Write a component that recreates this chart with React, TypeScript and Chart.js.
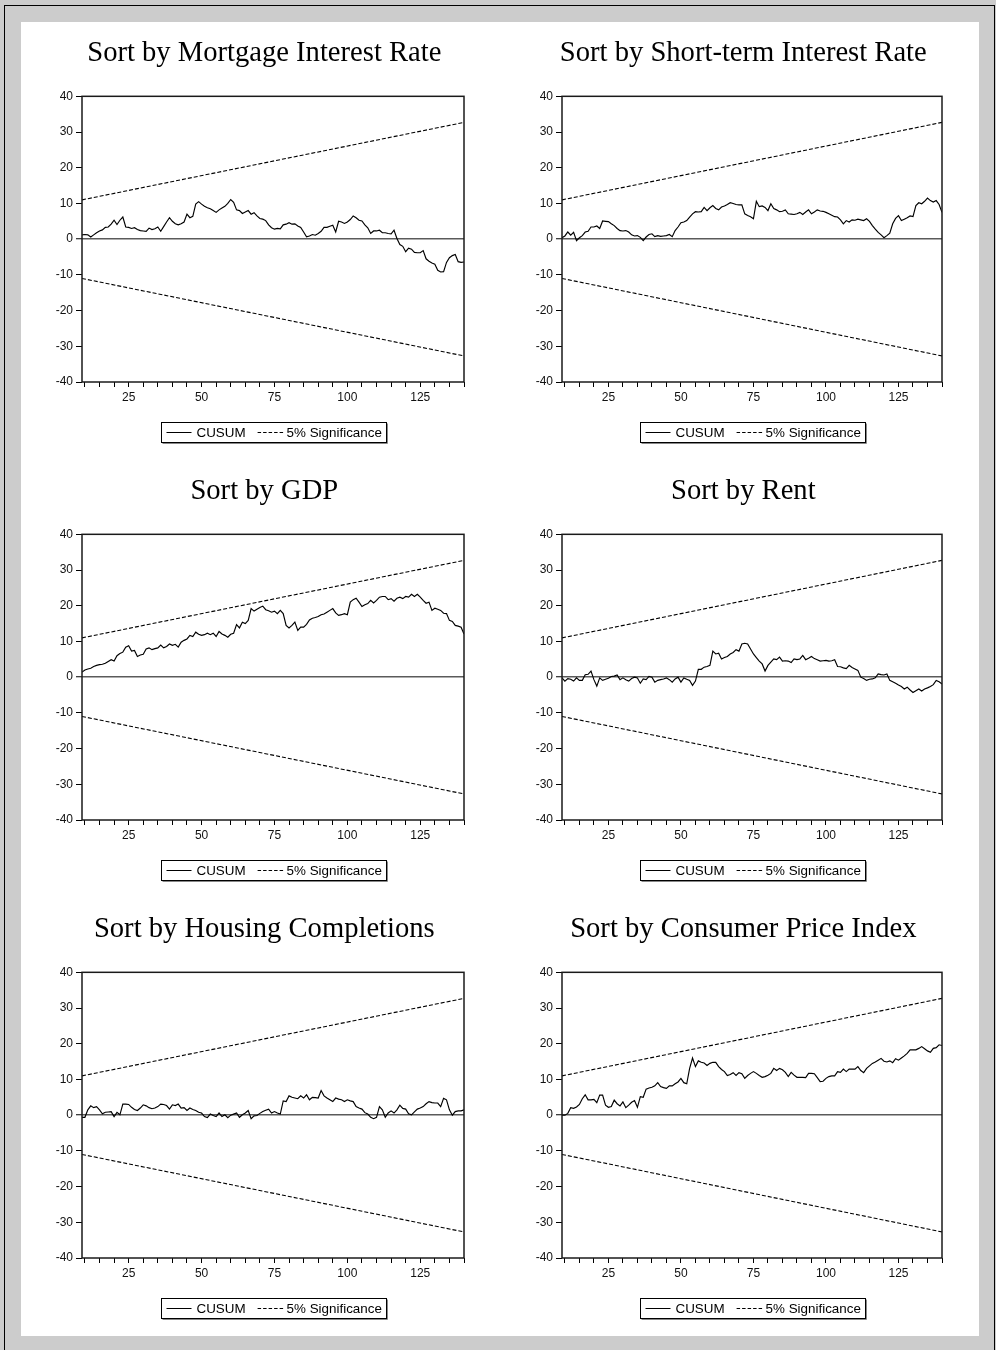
import React, { useEffect, useRef } from 'react';
import { Chart, registerables } from 'chart.js';

Chart.register(...registerables);

// ---------- data ----------
const obsStart = 9;
const xMin = 9;
const xMax = 140;
const yMin = -40;
const yMax = 40;
const yStep = 10;
const xTickValues = [10, 15, 20, 25, 30, 35, 40, 45, 50, 55, 60, 65, 70, 75, 80, 85, 90, 95, 100, 105, 110, 115, 120, 125, 130, 135, 140];
const xLabelValues = [25, 50, 75, 100, 125];

const sigX = [9, 140];
const sigUpper = [11.0, 32.7];
const sigLower = [-11.0, -32.7];

const legendLabels = ['CUSUM', '5% Significance'];

const titles = [
  'Sort by Mortgage Interest Rate',
  'Sort by Short-term Interest Rate',
  'Sort by GDP',
  'Sort by Rent',
  'Sort by Housing Completions',
  'Sort by Consumer Price Index',
];

const cusumMortgage = [
  1.2, 1.3, 1.2, 0.6, 1.2, 1.8, 2.3, 2.6, 3.3, 3.4,
  4.2, 5.3, 4.1, 5.3, 6.2, 3.4, 3.3, 3.0, 3.2, 2.7,
  2.4, 2.3, 2.2, 3.1, 2.7, 2.9, 3.4, 2.2, 3.5, 4.8,
  6.0, 5.0, 4.3, 4.0, 4.3, 4.8, 7.0, 6.0, 6.4, 9.8,
  10.5, 9.8, 9.2, 8.8, 8.5, 8.0, 7.5, 8.2, 8.7, 9.2,
  10.0, 11.1, 10.3, 8.2, 8.0, 7.2, 7.6, 8.0, 7.0, 7.4,
  6.5, 5.8, 5.6, 5.2, 4.0, 3.2, 2.8, 3.0, 2.9, 4.0,
  4.2, 4.6, 4.2, 4.3, 3.7, 3.3, 2.0, 0.65, 0.9, 1.3,
  1.1, 1.6, 2.2, 3.3, 3.3, 3.6, 3.9, 2.0, 5.0, 4.8,
  4.4, 4.8, 5.5, 6.5, 6.0, 5.3, 5.1, 4.0, 3.2, 1.6,
  2.3, 2.3, 2.5, 1.8, 1.8, 1.6, 1.5, 2.5, 0.2, -1.5,
  -2.0, -3.5, -2.5, -2.8, -3.7, -3.8, -3.8, -3.2, -5.5, -6.2,
  -6.7, -7.0, -8.7, -9.2, -9.1, -6.5, -5.2, -4.6, -4.3, -6.3,
  -6.5, -6.4,
];

const cusumShortTerm = [
  0.4, 0.9, 2.0, 1.1, 1.9, -0.4, 0.4, 1.0, 2.0, 2.2,
  3.4, 3.4, 3.7, 3.0, 5.1, 5.0, 4.9, 4.3, 3.8, 3.0,
  2.4, 2.3, 2.4, 2.0, 1.2, 0.9, 1.0, 0.5, -0.4, 0.6,
  1.3, 1.5, 0.7, 1.0, 0.8, 0.9, 1.0, 1.3, 0.7, 2.4,
  3.4, 4.6, 4.8, 5.2, 6.2, 7.1, 7.7, 7.6, 7.7, 8.9,
  8.0, 8.8, 9.4, 8.6, 8.2, 9.0, 9.3, 9.7, 10.2, 10.0,
  9.7, 9.6, 9.6, 7.1, 6.6, 6.3, 5.7, 10.6, 9.1, 9.3,
  8.9, 8.0, 9.9, 8.6, 8.2, 7.7, 7.8, 8.2, 7.1, 7.0,
  6.9, 7.1, 7.5, 6.9, 7.6, 8.2, 7.1, 7.6, 8.2, 7.9,
  7.8, 7.5, 7.1, 6.7, 6.3, 6.2, 5.4, 4.3, 5.2, 4.8,
  5.4, 5.3, 5.6, 5.4, 5.2, 5.7, 5.0, 3.8, 2.8, 1.9,
  1.2, 0.4, 1.0, 1.7, 4.3, 5.8, 6.6, 5.2, 5.6, 6.0,
  6.5, 6.3, 9.4, 10.2, 9.9, 10.6, 11.5, 10.8, 10.4, 10.8,
  9.7, 7.5,
];

const cusumGDP = [
  1.4, 2.0, 2.3, 2.5, 3.0, 3.3, 3.5, 3.6, 3.9, 4.4,
  4.9, 4.5, 6.0, 6.6, 7.0, 8.4, 8.8, 7.3, 7.5, 5.8,
  6.2, 6.4, 7.9, 8.2, 7.7, 8.0, 8.2, 9.0, 8.2, 8.6,
  9.3, 8.9, 9.2, 8.4, 9.8, 10.3, 10.7, 11.7, 11.4, 12.6,
  12.0, 11.7, 11.9, 12.3, 11.9, 12.3, 11.4, 12.8, 12.1, 11.7,
  11.2, 12.0, 12.3, 14.7, 13.8, 15.4, 15.0, 15.9, 19.2, 18.5,
  19.0, 19.5, 19.9, 18.9, 18.6, 18.2, 18.5, 17.8, 18.7, 17.8,
  14.5, 13.8, 14.5, 15.4, 13.1, 14.0, 14.0, 14.8, 16.0, 16.5,
  16.7, 17.0, 17.5, 17.7, 18.2, 18.7, 19.2, 18.0, 17.3, 17.5,
  17.8, 17.5, 21.0, 21.7, 22.1, 21.0, 19.8, 20.3, 20.6, 21.5,
  20.8, 21.5, 22.4, 22.6, 22.6, 21.7, 22.0, 21.3, 22.1, 22.4,
  22.0, 22.6, 22.4, 23.2, 22.6, 23.2, 22.4, 21.5, 20.7, 21.0,
  18.7, 19.3, 19.0, 18.7, 17.9, 17.8, 15.9, 15.6, 14.5, 14.3,
  14.0, 12.1,
];

const cusumRent = [
  -0.2, -1.1, -0.4, -0.6, -1.1, -0.2, -0.9, -0.9, 0.7, 0.8,
  1.7, -0.7, -2.5, -0.2, -0.9, -0.6, -0.3, 0.2, 0.3, 0.6,
  -0.7, -0.2, -0.7, -1.1, -0.4, 0.0, -0.2, -1.7, -0.5, -0.7,
  0.2, 0.0, -1.4, -0.9, -0.7, -0.5, -0.2, -0.7, -1.4, -0.5,
  0.0, -1.4, -0.2, -0.6, -0.9, -2.3, -1.1, 2.2, 2.2, 2.8,
  3.0, 3.3, 7.3, 6.5, 6.7, 5.1, 5.5, 5.8, 6.5, 6.9,
  7.7, 7.3, 9.3, 9.5, 9.3, 7.9, 6.5, 5.5, 4.5, 3.7,
  1.7, 3.3, 4.2, 5.1, 4.9, 5.6, 4.5, 4.6, 4.5, 4.1,
  5.1, 4.9, 5.1, 6.1, 4.9, 5.3, 5.8, 5.2, 4.9, 4.5,
  4.6, 4.7, 4.5, 4.6, 4.9, 3.0, 2.9, 2.6, 2.4, 3.3,
  2.7, 2.3, 1.9, 0.0, -0.4, -0.9, -0.6, -0.5, -0.2, 0.9,
  0.7, 0.6, 0.9, -0.9, -1.3, -1.7, -2.2, -2.6, -3.3, -2.8,
  -3.6, -4.3, -3.8, -3.3, -3.9, -3.3, -3.0, -2.6, -2.1, -0.9,
  -1.3, -1.9,
];

const cusumHousing = [
  -0.6, -0.6, 1.5, 2.6, 2.1, 2.4, 1.5, 0.4, 0.8, 0.9,
  1.0, -0.4, 0.8, 0.1, 3.1, 3.1, 3.0, 2.2, 1.6, 1.3,
  2.0, 2.9, 2.6, 2.1, 1.8, 2.0, 2.4, 3.1, 3.0, 2.7,
  1.7, 2.9, 2.7, 3.1, 2.0, 2.1, 1.3, 2.0, 1.6, 1.3,
  0.8, 0.6, -0.4, -0.7, 0.3, -0.1, -0.4, 0.6, -0.4, 0.1,
  -0.7, 0.0, 0.3, 0.6, -0.6, 0.1, 0.6, 1.3, -1.0, -0.2,
  -0.1, 0.5, 1.0, 1.4, 1.7, 0.6, 1.0, 0.6, 0.3, 4.0,
  3.8, 5.4, 5.0, 4.8, 4.6, 5.4, 4.8, 5.7, 4.3, 5.0,
  4.9, 4.8, 6.9, 5.4, 4.8, 4.3, 3.8, 4.8, 4.5, 4.3,
  3.8, 4.3, 4.0, 3.8, 2.4, 2.0, 1.7, 0.7, 0.3, -0.6,
  -1.0, -0.6, 2.4, 1.5, -0.6, 0.6, 1.2, 0.6, 1.5, 2.8,
  1.9, 1.7, 0.4, 0.1, 0.9, 1.7, 2.0, 2.4, 3.2, 3.8,
  3.5, 3.4, 3.4, 2.4, 4.7, 4.3, 1.5, 0.0, 1.0, 1.2,
  1.2, 1.5,
];

const cusumCPI = [
  0.0, 0.0, 0.5, 2.1, 1.9, 2.3, 3.0, 4.6, 5.7, 4.3,
  4.3, 4.4, 3.5, 5.6, 5.6, 2.8, 2.2, 2.4, 4.2, 3.2,
  2.6, 3.7, 2.1, 2.8, 3.6, 4.1, 2.2, 5.2, 5.0, 7.3,
  7.6, 7.8, 8.2, 9.1, 8.0, 7.7, 7.5, 8.2, 8.2, 8.8,
  9.3, 10.3, 9.1, 8.8, 13.1, 16.0, 13.6, 15.2, 14.8, 14.6,
  13.9, 14.5, 14.8, 14.8, 13.6, 12.8, 12.2, 11.1, 11.4, 11.9,
  11.1, 11.9, 11.6, 10.3, 11.1, 11.7, 12.2, 11.7, 11.1, 10.6,
  10.8, 11.2, 11.7, 13.1, 12.5, 13.1, 12.7, 12.0, 10.8, 12.0,
  11.2, 10.6, 10.6, 10.6, 10.5, 11.7, 11.7, 11.6, 10.5, 9.4,
  9.5, 10.3, 10.8, 11.0, 11.0, 12.2, 12.0, 12.9, 12.2, 12.9,
  12.9, 12.9, 13.6, 12.5, 11.9, 13.1, 13.8, 14.5, 14.9, 15.4,
  15.9, 15.1, 14.9, 15.2, 14.7, 15.8, 15.4, 16.0, 16.6, 17.3,
  18.3, 18.3, 18.3, 18.7, 19.2, 18.6, 18.0, 17.6, 18.7, 18.9,
  19.7, 19.5,
];

const seriesList = [cusumMortgage, cusumShortTerm, cusumGDP, cusumRent, cusumHousing, cusumCPI];

// ---------- layout ----------
const canvasW = 470;
const canvasH = 438;
const leftAxisW = 30;
const rightSpacerW = 12.6;
const panelPos = [
  { left: 30, top: 22, padL: 22, padR: 23.4 },
  { left: 510, top: 22, padL: 22, padR: 25.4 },
  { left: 30, top: 460, padL: 22, padR: 23.4 },
  { left: 510, top: 460, padL: 22, padR: 25.4 },
  { left: 30, top: 898, padL: 22, padR: 23.4 },
  { left: 510, top: 898, padL: 22, padR: 25.4 },
];

const SANS = '"Liberation Sans", Arial, Helvetica, sans-serif';
const SERIF = '"Liberation Serif", "Times New Roman", Times, serif';

const framePlugin = {
  id: 'plotFrame',
  afterDatasetsDraw(chart: any) {
    const { ctx, chartArea } = chart;
    ctx.save();
    ctx.strokeStyle = '#1a1a1a';
    ctx.lineWidth = 1.5;
    ctx.strokeRect(chartArea.left, chartArea.top, chartArea.right - chartArea.left, chartArea.bottom - chartArea.top);
    ctx.restore();
  },
};

const boxLegendPlugin = {
  id: 'boxLegend',
  afterDraw(chart: any) {
    const { ctx, chartArea } = chart;
    const ds = chart.data.datasets.filter((d: any) => !d.hideInLegend);
    ctx.save();
    ctx.font = '13.4px ' + SANS;
    const sampleLen = [25, 27];
    const widths = ds.map((d: any) => ctx.measureText(d.label).width);
    const total = 5 + sampleLen[0] + 5 + widths[0] + 12 + sampleLen[1] + 2 + widths[1] + 5;
    const cx = (chartArea.left + chartArea.right) / 2 + 0.5;
    const left = Math.round(cx - total / 2) + 0.5;
    const top = Math.round(chartArea.bottom + 40) + 0.5;
    const h = 20;
    ctx.strokeStyle = '#000';
    ctx.lineWidth = 1;
    ctx.strokeRect(left, top, Math.round(total), h);
    ctx.strokeStyle = '#888';
    ctx.beginPath();
    ctx.moveTo(left + 1, top + h + 1);
    ctx.lineTo(left + Math.round(total) + 1, top + h + 1);
    ctx.lineTo(left + Math.round(total) + 1, top + 1);
    ctx.stroke();
    const my = top + h / 2;
    let x = left + 5;
    ctx.fillStyle = '#000';
    ctx.textBaseline = 'middle';
    ctx.textAlign = 'left';
    ds.forEach((d: any, i: number) => {
      ctx.strokeStyle = '#000';
      ctx.lineWidth = 1;
      ctx.setLineDash(d.borderDash ? [3.5, 2] : []);
      ctx.beginPath();
      ctx.moveTo(x, my);
      ctx.lineTo(x + sampleLen[i], my);
      ctx.stroke();
      ctx.setLineDash([]);
      x += sampleLen[i] + (i === 0 ? 5 : 2);
      ctx.fillText(d.label, x, my + 0.5);
      x += widths[i] + 12;
    });
    ctx.restore();
  },
};

function buildConfig(idx: number) {
  const values = seriesList[idx];
  const pos = panelPos[idx];
  const cusum = values.map((v, i) => ({ x: obsStart + i, y: v }));
  const upper = sigX.map((x, i) => ({ x, y: sigUpper[i] }));
  const lower = sigX.map((x, i) => ({ x, y: sigLower[i] }));
  return {
    type: 'line',
    data: {
      datasets: [
        { label: legendLabels[0], data: cusum, borderColor: '#000', borderWidth: 1.15, pointRadius: 0, tension: 0, fill: false },
        { label: legendLabels[1], data: upper, borderColor: '#000', borderWidth: 1.1, borderDash: [4, 2], pointRadius: 0, tension: 0, fill: false },
        { label: legendLabels[1], data: lower, borderColor: '#000', borderWidth: 1.1, borderDash: [4, 2], pointRadius: 0, tension: 0, fill: false, hideInLegend: true },
      ],
    },
    options: {
      animation: false,
      responsive: false,
      devicePixelRatio: 1,
      events: [],
      layout: { padding: { left: pos.padL, right: pos.padR, top: 0, bottom: 48 } },
      plugins: {
        legend: { display: false },
        tooltip: { enabled: false },
        title: {
          display: true,
          text: titles[idx],
          color: '#000',
          font: { family: SERIF, size: 28.6, weight: 'normal', lineHeight: 1.2 },
          padding: { top: 14, bottom: 26 },
        },
      },
      scales: {
        x: {
          type: 'linear',
          position: 'bottom',
          min: xMin,
          max: xMax,
          afterFit: (s: any) => { s.height = 30; },
          afterBuildTicks: (s: any) => { s.ticks = xTickValues.map((v) => ({ value: v })); },
          border: { display: false },
          grid: { display: true, drawOnChartArea: false, drawTicks: true, tickLength: 5, tickColor: '#000', tickWidth: 1 },
          ticks: {
            autoSkip: false,
            maxRotation: 0,
            minRotation: 0,
            padding: 3,
            color: '#111',
            font: { family: SANS, size: 12 },
            callback: (v: any) => (xLabelValues.includes(Number(v)) ? String(v) : ''),
          },
        },
        y: {
          type: 'linear',
          position: 'left',
          min: yMin,
          max: yMax,
          afterFit: (s: any) => { s.width = leftAxisW; },
          border: { display: false },
          grid: {
            display: true,
            drawOnChartArea: true,
            drawTicks: true,
            tickLength: 6,
            tickColor: '#000',
            tickWidth: 1,
            color: (c: any) => (c.tick && c.tick.value === 0 ? '#5a5a5a' : 'rgba(0,0,0,0)'),
            lineWidth: (c: any) => (c.tick && c.tick.value === 0 ? 1.5 : 1),
          },
          ticks: {
            stepSize: yStep,
            padding: 3,
            color: '#111',
            font: { family: SANS, size: 12 },
          },
        },
        ySpacer: {
          type: 'linear',
          position: 'right',
          min: yMin,
          max: yMax,
          afterFit: (s: any) => { s.width = rightSpacerW; },
          border: { display: false },
          grid: { display: false, drawOnChartArea: false, drawTicks: false },
          ticks: { display: false },
        },
      },
    },
    plugins: [framePlugin, boxLegendPlugin],
  };
}

function Panel({ idx }: { idx: number }) {
  const ref = useRef<HTMLCanvasElement | null>(null);
  useEffect(() => {
    if (!ref.current) return;
    const chart = new Chart(ref.current, buildConfig(idx) as any);
    return () => chart.destroy();
  }, [idx]);
  const pos = panelPos[idx];
  return (
    <canvas
      ref={ref}
      width={canvasW}
      height={canvasH}
      style={{ position: 'absolute', left: pos.left, top: pos.top, width: canvasW, height: canvasH }}
    />
  );
}

export default function App() {
  return (
    <div style={{ position: 'absolute', left: 0, top: 0, width: 996, height: 1350, background: '#cccccc', overflow: 'hidden' }}>
      <div
        style={{
          position: 'absolute', left: 4, top: 5, width: 991, height: 1400, boxSizing: 'border-box',
          borderLeft: '1px solid #000', borderTop: '1px solid #000', borderRight: '1px solid #000',
        }}
      />
      <div style={{ position: 'absolute', left: 21, top: 22, width: 958, height: 1314, background: '#fff' }} />
      {titles.map((_, i) => (
        <Panel key={i} idx={i} />
      ))}
    </div>
  );
}
